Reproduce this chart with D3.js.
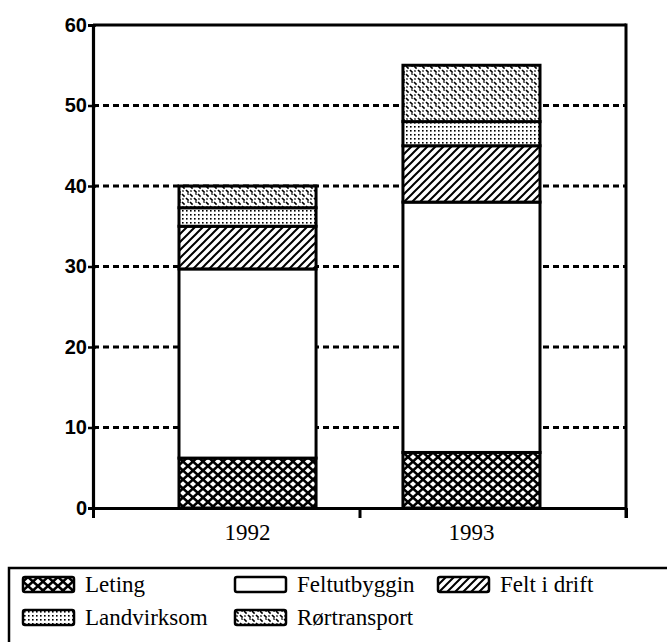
<!DOCTYPE html>
<html>
<head>
<meta charset="utf-8">
<script src="https://cdn.jsdelivr.net/npm/d3@7"></script>
<style>
  body { margin: 0; background: #fff; }
  svg { display: block; }
</style>
</head>
<body>
<div id="chart"></div>
<script>
// chart values
var years = ["1992", "1993"];
var categories = ["Leting", "Feltutbyggin", "Felt i drift", "Landvirksom", "Rørtransport"];
var leting = [6.2, 6.9];
var feltutbyggin = [23.5, 31.1];
var feltIDrift = [5.3, 7.0];
var landvirksom = [2.3, 3.0];
var rortransport = [2.7, 7.0];
var yTicks = [0, 10, 20, 30, 40, 50, 60];

var svgWidth = 667;
var svgHeight = 642;

var margin = { top: 25, right: 41, bottom: 134, left: 93 };
var width = svgWidth - margin.left - margin.right;
var height = svgHeight - margin.top - margin.bottom;

var svg = d3.select("#chart")
    .append("svg")
    .attr("width", svgWidth)
    .attr("height", svgHeight);

// fill patterns, like the old black & white hatches
var defs = svg.append("defs");

var pLeting = defs.append("pattern")
    .attr("id", "p-leting")
    .attr("patternUnits", "userSpaceOnUse")
    .attr("width", 10).attr("height", 9);
pLeting.append("rect").attr("width", 10).attr("height", 9).attr("fill", "#000");
[[5, 4.5], [0, 0], [10, 0], [0, 9], [10, 9]].forEach(function(c) {
    pLeting.append("polygon")
        .attr("points", [[c[0], c[1] - 2.7], [c[0] + 3.1, c[1]], [c[0], c[1] + 2.7], [c[0] - 3.1, c[1]]].join(" "))
        .attr("fill", "#fff");
});

var pDrift = defs.append("pattern")
    .attr("id", "p-drift")
    .attr("patternUnits", "userSpaceOnUse")
    .attr("width", 8).attr("height", 8);
pDrift.append("rect").attr("width", 8).attr("height", 8).attr("fill", "#fff");
pDrift.append("path")
    .attr("d", "M-2,10 L10,-2 M-2,2 L2,-2 M6,10 L10,6")
    .attr("stroke", "#000")
    .attr("stroke-width", 2);

var pLand = defs.append("pattern")
    .attr("id", "p-land")
    .attr("patternUnits", "userSpaceOnUse")
    .attr("width", 4).attr("height", 4);
pLand.append("rect").attr("width", 4).attr("height", 4).attr("fill", "#fff");
pLand.append("rect").attr("x", 1).attr("y", 1).attr("width", 1.6).attr("height", 1.6).attr("fill", "#000");

var pRor = defs.append("pattern")
    .attr("id", "p-ror")
    .attr("patternUnits", "userSpaceOnUse")
    .attr("width", 8).attr("height", 8);
pRor.append("rect").attr("width", 8).attr("height", 8).attr("fill", "#fff");
pRor.append("path")
    .attr("d", "M1,1 L3.6,3.6 M5,5 L7.6,7.6 M6.5,1.5 L7.5,0.5 M2.5,5.5 L1.5,6.5")
    .attr("stroke", "#000")
    .attr("stroke-width", 1.6);

var fills = {
    "Leting": "url(#p-leting)",
    "Feltutbyggin": "#fff",
    "Felt i drift": "url(#p-drift)",
    "Landvirksom": "url(#p-land)",
    "Rørtransport": "url(#p-ror)"
};

var chartGroup = svg.append("g")
    .attr("transform", `translate(${margin.left}, ${margin.top})`);

// table for the stack
var table = years.map(function(y, i) {
    return {
        year: y,
        "Leting": leting[i],
        "Feltutbyggin": feltutbyggin[i],
        "Felt i drift": feltIDrift[i],
        "Landvirksom": landvirksom[i],
        "Rørtransport": rortransport[i]
    };
});
var series = d3.stack().keys(categories)(table);

var xBand = d3.scaleBand()
    .domain(years)
    .range([0, width])
    .paddingInner(0.388)
    .paddingOuter(0.384);

// plain scale for the three bottom ticks
var xTick = d3.scaleLinear().domain([0, 2]).range([0, width]);

var yScale = d3.scaleLinear()
    .domain([0, 60])
    .range([height, 0]);

// dashed grid lines
chartGroup.append("g")
    .selectAll("line")
    .data(yTicks.filter(d => d > 0 && d < 60))
    .enter()
    .append("line")
    .attr("x1", 0)
    .attr("x2", width)
    .attr("y1", d => yScale(d))
    .attr("y2", d => yScale(d))
    .attr("stroke", "#000")
    .attr("stroke-width", 3)
    .attr("stroke-dasharray", "6,4");

// stacked bars
chartGroup.append("g")
    .selectAll("g")
    .data(series)
    .enter()
    .append("g")
    .attr("fill", d => fills[d.key])
    .selectAll("rect")
    .data(d => d)
    .enter()
    .append("rect")
    .attr("x", d => xBand(d.data.year))
    .attr("y", d => yScale(d[1]))
    .attr("width", xBand.bandwidth())
    .attr("height", d => yScale(d[0]) - yScale(d[1]))
    .attr("stroke", "#000")
    .attr("stroke-width", 3);

// frame: top
chartGroup.append("line")
    .attr("x1", 0).attr("x2", width)
    .attr("y1", yScale(60)).attr("y2", yScale(60))
    .attr("stroke", "#000").attr("stroke-width", 3);

// y axis
var leftAxis = d3.axisLeft(yScale)
    .tickValues(yTicks)
    .tickSize(5)
    .tickPadding(1);
var yAxis = chartGroup.append("g").call(leftAxis);
yAxis.select(".domain").attr("stroke-width", 3.2);
yAxis.selectAll(".tick line").attr("stroke-width", 2.5).attr("x2", -5).attr("x1", 3);
yAxis.selectAll(".tick text")
    .attr("font-family", "'Liberation Sans', Arial, sans-serif")
    .attr("font-size", 20)
    .attr("font-weight", "bold")
    .attr("fill", "#000");

// x axis with three ticks
var bottomAxis = d3.axisBottom(xTick)
    .tickValues([0, 1, 2])
    .tickSizeInner(10)
    .tickSizeOuter(0)
    .tickFormat("");
var xAxis = chartGroup.append("g")
    .attr("transform", `translate(0, ${height})`)
    .call(bottomAxis);
xAxis.select(".domain").attr("stroke-width", 3.2);
xAxis.selectAll(".tick line").attr("stroke-width", 3);

// right frame side
chartGroup.append("line")
    .attr("x1", width).attr("x2", width)
    .attr("y1", yScale(60) - 1.5).attr("y2", height + 10)
    .attr("stroke", "#000").attr("stroke-width", 3);

// year labels
chartGroup.append("g")
    .selectAll("text")
    .data(years)
    .enter()
    .append("text")
    .attr("x", d => xBand(d) + xBand.bandwidth() / 2)
    .attr("y", height + 32)
    .attr("text-anchor", "middle")
    .attr("font-family", "'Liberation Serif', 'Times New Roman', serif")
    .attr("font-size", 23)
    .text(d => d);

// legend
var legendCols = [23, 235, 438];
var legendRows = [577, 610];
var legend = svg.append("g");
legend.append("rect")
    .attr("x", 9).attr("y", 568)
    .attr("width", 700).attr("height", 120)
    .attr("fill", "none")
    .attr("stroke", "#000")
    .attr("stroke-width", 2.5);

var items = legend.selectAll("g.item")
    .data(categories)
    .enter()
    .append("g")
    .attr("class", "item")
    .attr("transform", (d, i) => `translate(${legendCols[i % 3]}, ${legendRows[Math.floor(i / 3)]})`);

items.append("rect")
    .attr("width", 51)
    .attr("height", 15)
    .attr("rx", 2)
    .attr("fill", d => fills[d])
    .attr("stroke", "#000")
    .attr("stroke-width", 2.5);

items.append("text")
    .attr("x", 62)
    .attr("y", 15)
    .attr("font-family", "'Liberation Serif', 'Times New Roman', serif")
    .attr("font-size", 23)
    .text(d => d);
</script>
</body>
</html>
